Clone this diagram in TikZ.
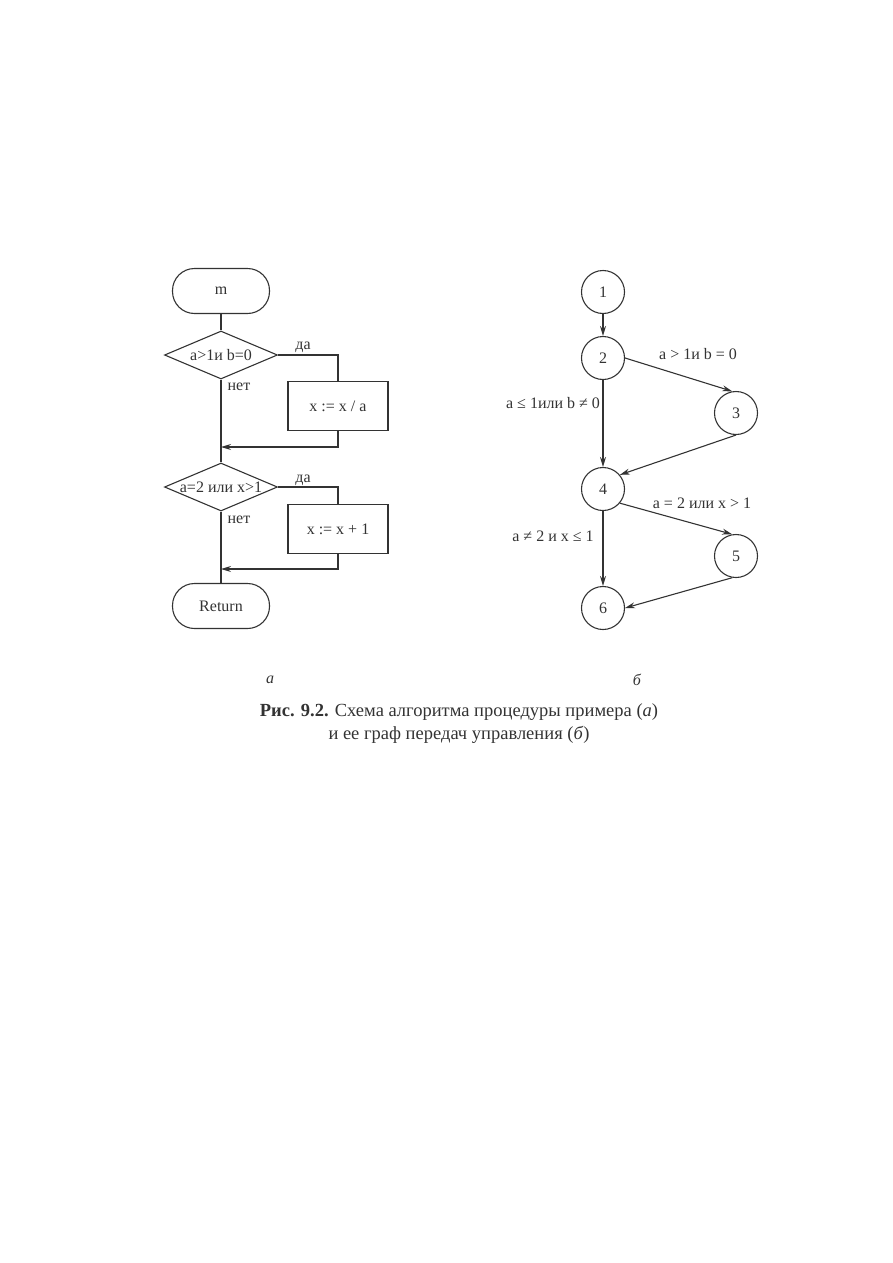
\documentclass[tikz,border=0pt]{standalone}
\usepackage{fontspec}
\setmainfont{Liberation Serif}
\usepackage{tikz}
\usetikzlibrary{shapes.geometric,arrows.meta}
\definecolor{ink}{gray}{0.2}
\tikzset{%
  every node/.style={
    font=\fontsize{16}{19}\selectfont
  },
  every vertex/.style={
    circle,
    draw,
    minimum size=43pt,
    inner sep=0pt
  },
  terminal/.style={
    rectangle,
    draw,
    rounded corners=22pt,
    minimum width=97pt,
    minimum height=45pt
  },
  process/.style={
    rectangle,
    draw,
    minimum width=100pt,
    minimum height=49pt
  },
  decision/.style={
    diamond,
    draw,
    minimum width=113pt,
    minimum height=48pt,
    inner sep=0pt
  },
  caption text/.style={
    font=\fontsize{18.5}{23}\selectfont,
    align=center
  },
}

\begin{document}
\begin{tikzpicture}[> = {Stealth[length=10pt,width=6pt]}, x=1pt, y=-1pt, color=ink, line width=1.1pt]
\useasboundingbox (0,0) rectangle (893,1263);
% flowchart (a)
\node[terminal] (m) at (221,291) {m};
\node[decision] (d1) at (221,355) {};
\node (d1text) at (d1) {a>1и b=0};
\node[process] (b1) at (338,406) {x := x / a};
\coordinate (j1) at (221,447);
\node[decision] (d2) at (221,487) {};
\node (d2text) at (d2) {a=2 или x>1};
\node[process] (b2) at (338,529) {x := x + 1};
\coordinate (j2) at (221,569);
\node[terminal] (ret) at (221,606) {Return};
\node (yes1) at (303,347) {да};
\node (no1) at (239,387) {нет};
\node (yes2) at (303,480) {да};
\node (no2) at (239,520) {нет};
\draw (m) -- (d1);
\draw (d1.east) -| (b1.north);
\draw[->] (b1.south) |- (j1);
\draw (d1.south) -- (d2.north);
\draw (d2.east) -| (b2.north);
\draw[->] (b2.south) |- (j2);
\draw (d2.south) -- (ret.north);
% control graph (b)
\foreach \n/\x/\y in {1/603/292, 2/603/358, 3/736/413, 4/603/489, 5/736/556, 6/603/608}
    \node[every vertex] (v\n) at (\x,\y) {\n};
\draw[->] (v1) -- (v2);
\draw[->] (v2.east) -- (v3.100);
\draw[->] (v2) -- (v4);
\draw[->] (v3.south) -- (v4.40);
\draw[->] (v4.-40) -- (v5.100);
\draw[->] (v4) -- (v6);
\draw[->] (v5.-100) -- (v6.east);
\node (c23) at (698,354) {a > 1и b = 0};
\node (c24) at (553,403) {a ≤ 1или b ≠ 0};
\node (c45) at (702,503) {a = 2 или x > 1};
\node (c46) at (553,536) {a ≠ 2 и x ≤ 1};
% caption
\node[font=\fontsize{16}{19}\selectfont\itshape] (suba) at (270,680) {а};
\node[font=\fontsize{16}{19}\selectfont\itshape] (subb) at (637,680) {б};
\node[caption text] (caption) at (459,724) {\textbf{Рис. 9.2.} Схема алгоритма процедуры примера (\textit{а})\\и ее граф передач управления (\textit{б})};
\end{tikzpicture}
\end{document}
